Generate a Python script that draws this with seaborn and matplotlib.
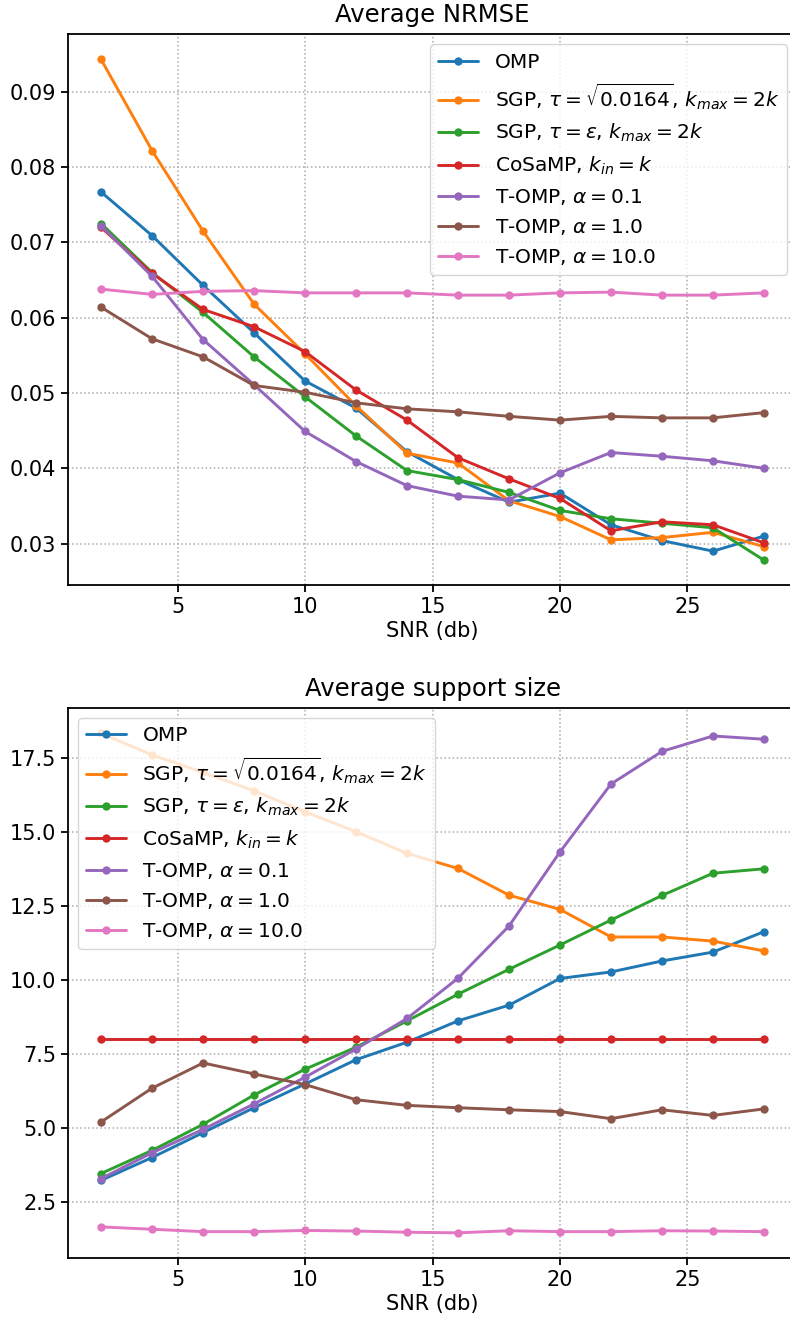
import numpy as np
import seaborn as sns
import matplotlib
matplotlib.use("Agg")
import matplotlib.pyplot as plt

snr = [2, 4, 6, 8, 10, 12, 14, 16, 18, 20, 22, 24, 26, 28]

labels = ["OMP",
          r"SGP, $\tau=\sqrt{0.0164}$, $k_{max}=2k$",
          r"SGP, $\tau=\varepsilon$, $k_{max}=2k$",
          r"CoSaMP, $k_{in}=k$",
          r"T-OMP, $\alpha=0.1$",
          r"T-OMP, $\alpha=1.0$",
          r"T-OMP, $\alpha=10.0$"]

# Average NRMSE
nrmse_omp = [0.0767, 0.0709, 0.0643, 0.0580, 0.0516, 0.0480, 0.0422, 0.0385,
             0.0355, 0.0367, 0.0325, 0.0304, 0.0290, 0.0310]
nrmse_sgp_sqrt = [0.0943, 0.0822, 0.0715, 0.0618, 0.0552, 0.0483, 0.0420, 0.0407,
                  0.0357, 0.0336, 0.0305, 0.0308, 0.0315, 0.0296]
nrmse_sgp_eps = [0.0725, 0.0660, 0.0607, 0.0548, 0.0495, 0.0443, 0.0397, 0.0385,
                 0.0368, 0.0344, 0.0333, 0.0327, 0.0321, 0.0278]
nrmse_cosamp = [0.0720, 0.0659, 0.0611, 0.0588, 0.0555, 0.0504, 0.0464, 0.0414,
                0.0386, 0.0360, 0.0317, 0.0329, 0.0325, 0.0301]
nrmse_tomp_01 = [0.0722, 0.0655, 0.0571, 0.0511, 0.0449, 0.0409, 0.0377, 0.0363,
                 0.0358, 0.0394, 0.0421, 0.0416, 0.0410, 0.0400]
nrmse_tomp_1 = [0.0614, 0.0572, 0.0548, 0.0510, 0.0501, 0.0487, 0.0479, 0.0475,
                0.0469, 0.0464, 0.0469, 0.0467, 0.0467, 0.0474]
nrmse_tomp_10 = [0.0638, 0.0631, 0.0635, 0.0636, 0.0633, 0.0633, 0.0633, 0.0630,
                 0.0630, 0.0633, 0.0634, 0.0630, 0.0630, 0.0633]

# Average support size
supp_omp = [3.24, 4.01, 4.85, 5.69, 6.49, 7.31, 7.90, 8.62, 9.15, 10.05, 10.27,
            10.64, 10.94, 11.63]
supp_sgp_sqrt = [18.32, 17.59, 17.0, 16.38, 15.67, 15.0, 14.27, 13.76, 12.86,
                 12.38, 11.45, 11.45, 11.31, 10.98]
supp_sgp_eps = [3.47, 4.25, 5.13, 6.12, 6.99, 7.73, 8.62, 9.52, 10.36, 11.18,
                12.02, 12.85, 13.60, 13.75]
supp_cosamp = [8.0] * 14
supp_tomp_01 = [3.30, 4.17, 4.96, 5.82, 6.72, 7.67, 8.70, 10.06, 11.82, 14.32,
                16.61, 17.71, 18.23, 18.12]
supp_tomp_1 = [5.21, 6.35, 7.20, 6.83, 6.47, 5.96, 5.77, 5.69, 5.62, 5.56, 5.32,
               5.62, 5.43, 5.65]
supp_tomp_10 = [1.67, 1.59, 1.51, 1.51, 1.55, 1.53, 1.49, 1.47, 1.54, 1.51, 1.51,
                1.54, 1.53, 1.51]

nrmse = [nrmse_omp, nrmse_sgp_sqrt, nrmse_sgp_eps, nrmse_cosamp,
         nrmse_tomp_01, nrmse_tomp_1, nrmse_tomp_10]
supp = [supp_omp, supp_sgp_sqrt, supp_sgp_eps, supp_cosamp,
        supp_tomp_01, supp_tomp_1, supp_tomp_10]


def draw_panel(ax, series, title, legend_loc):
    colors = sns.color_palette("tab10")
    for i, (name, vals) in enumerate(zip(labels, series)):
        sns.lineplot(x=snr, y=vals, ax=ax, label=name, color=colors[i],
                     marker="o", markersize=6, markeredgewidth=0,
                     linewidth=2.1)
    ax.set_title(title, fontsize=17.5, pad=9)
    ax.set_xlabel("SNR (db)", fontsize=15, labelpad=3)
    ax.set_ylabel("")
    ax.set_xlim(0.7, 29.3)
    ax.grid(True, linestyle=":", color="#aaaaaa", linewidth=1.1)
    ax.tick_params(labelsize=15, width=1.3, length=5, color="black",
                   labelcolor="black")
    for s in ax.spines.values():
        s.set_linewidth(1.3)
        s.set_color("black")
    ax.legend(loc=legend_loc, fontsize=14.5, framealpha=0.8)


def main():
    sns.set_theme(style="ticks")
    plt.rcParams["font.family"] = ["DejaVu Sans"]
    plt.rcParams["mathtext.fontset"] = "dejavusans"
    plt.rcParams["text.color"] = "black"
    plt.rcParams["axes.labelcolor"] = "black"

    fig = plt.figure(figsize=(7.9, 13.24), dpi=100)
    ax1 = fig.add_axes([0.086, 0.558, 0.923, 0.416])
    ax2 = fig.add_axes([0.086, 0.050, 0.923, 0.415])

    draw_panel(ax1, nrmse, "Average NRMSE", "upper right")
    draw_panel(ax2, supp, "Average support size", "upper left")

    fig.savefig("out.png", dpi=100)


if __name__ == "__main__":
    main()
